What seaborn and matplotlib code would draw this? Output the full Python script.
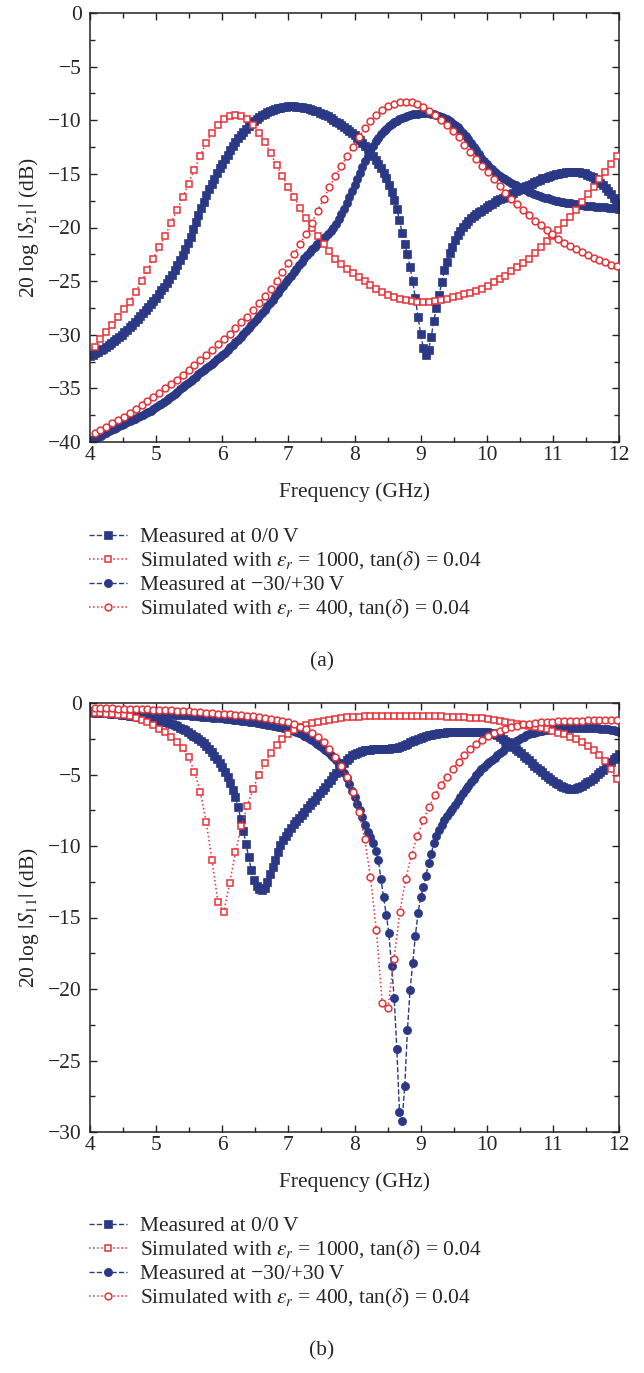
import numpy as np
import matplotlib
matplotlib.use('Agg')
import matplotlib.pyplot as plt
import seaborn as sns
from matplotlib.ticker import MultipleLocator

# frequency sweeps (GHz)
freq_meas = np.round(np.arange(4.0, 12.001, 0.04), 2)   # measured, 201 points
freq_sim = np.linspace(4.07, 11.97, 90)                  # simulated, 90 points

# ---- (a) 20 log|S21| (dB) ----
s21_meas_0v = [
    -32.0, -31.88, -31.73, -31.59, -31.46, -31.3, -31.14, -30.98, -30.8, -30.6, -30.4, -30.2, -30.0,
    -29.78, -29.54, -29.3, -29.06, -28.79, -28.51, -28.24, -28.0, -27.68, -27.39, -27.11, -26.83,
    -26.55, -26.19, -25.86, -25.54, -25.2, -24.8, -24.4, -23.97, -23.53, -23.07, -22.55, -22.03, -21.48,
    -20.86, -20.18, -19.5, -18.86, -18.22, -17.6, -17.0, -16.45, -15.93, -15.44, -14.96, -14.49,
    -14.05, -13.61, -13.2, -12.8, -12.41, -12.05, -11.69, -11.36, -11.06, -10.78, -10.5, -10.26, -10.05,
    -9.85, -9.66, -9.5, -9.38, -9.26, -9.14, -9.03, -8.95, -8.87, -8.82, -8.78, -8.74,
    -8.7, -8.7, -8.71, -8.73, -8.76, -8.8, -8.84, -8.89, -8.95, -9.02, -9.1, -9.18, -9.29,
    -9.41, -9.53, -9.65, -9.81, -9.97, -10.13, -10.29, -10.45, -10.61, -10.8, -11.0, -11.2,
    -11.4, -11.64, -11.88, -12.14, -12.42, -12.7, -13.02, -13.34, -13.68, -14.05, -14.45, -14.89, -15.42,
    -16.02, -16.68, -17.4, -18.3, -19.3, -20.5, -21.5, -22.5, -23.7, -25.0, -26.6, -28.3,
    -29.9, -31.2, -31.9, -31.4, -30.2, -28.7, -27.5, -26.3, -25.1, -24.0, -23.2, -22.4, -21.8,
    -21.2, -20.7, -20.3, -19.98, -19.69, -19.41, -19.15, -18.95, -18.75, -18.58, -18.42, -18.26,
    -18.1, -17.94, -17.78, -17.62, -17.47, -17.35, -17.23, -17.11, -16.99, -16.87, -16.75, -16.63, -16.51,
    -16.39, -16.27, -16.15, -16.03, -15.91, -15.79, -15.67, -15.55, -15.43, -15.34, -15.26, -15.18,
    -15.1, -15.02, -14.97, -14.93, -14.89, -14.85, -14.82, -14.8, -14.8, -14.81, -14.85, -14.89, -14.96,
    -15.06, -15.18, -15.3, -15.46, -15.65, -15.85, -16.06, -16.3, -16.58, -16.89, -17.26, -17.71,
    -18.3,
]
s21_meas_30v = [
    -39.9, -39.78, -39.66, -39.54, -39.42, -39.3, -39.14, -39.01, -38.89, -38.77, -38.65, -38.53, -38.41,
    -38.29, -38.17, -38.05, -37.93, -37.81, -37.69, -37.57, -37.45, -37.33, -37.21, -37.07, -36.91,
    -36.75, -36.59, -36.43, -36.27, -36.1, -35.9, -35.7, -35.5, -35.3, -35.1, -34.9, -34.7, -34.5,
    -34.3, -34.1, -33.9, -33.7, -33.5, -33.3, -33.1, -32.9, -32.7, -32.5, -32.3, -32.1,
    -31.9, -31.66, -31.42, -31.18, -30.94, -30.7, -30.46, -30.22, -29.96, -29.68, -29.4, -29.12, -28.84,
    -28.56, -28.28, -28.0, -27.68, -27.36, -27.04, -26.72, -26.4, -26.08, -25.76, -25.44, -25.12,
    -24.8, -24.48, -24.16, -23.84, -23.52, -23.2, -22.88, -22.59, -22.31, -22.04, -21.8, -21.56, -21.32,
    -21.08, -20.84, -20.6, -20.32, -20.01, -19.65, -19.25, -18.75, -18.23, -17.68, -17.12, -16.56,
    -16.0, -15.44, -14.88, -14.34, -13.82, -13.3, -12.82, -12.37, -11.98, -11.62, -11.3, -11.02, -10.77,
    -10.55, -10.36, -10.2, -10.04, -9.91, -9.79, -9.68, -9.6, -9.52, -9.46, -9.42, -9.39,
    -9.35, -9.35, -9.35, -9.37, -9.41, -9.45, -9.53, -9.63, -9.72, -9.82, -9.9, -10.06, -10.25,
    -10.45, -10.66, -10.9, -11.18, -11.46, -11.76, -12.09, -12.45, -12.81, -13.17, -13.51, -13.82,
    -14.1, -14.34, -14.58, -14.8, -15.0, -15.2, -15.36, -15.52, -15.68, -15.84, -15.95, -16.07, -16.19,
    -16.31, -16.43, -16.55, -16.67, -16.79, -16.89, -16.97, -17.05, -17.13, -17.21, -17.29, -17.37,
    -17.45, -17.49, -17.54, -17.59, -17.63, -17.67, -17.71, -17.75, -17.79, -17.83, -17.87, -17.91, -17.95,
    -18.0, -18.02, -18.04, -18.06, -18.08, -18.1, -18.11, -18.12, -18.14, -18.16, -18.17, -18.19,
    -18.2,
]
s21_sim_1000 = [
    -31.1, -30.4, -29.7, -29.1, -28.3, -27.6, -26.9, -26.0, -25.0, -24.0,
    -22.9, -21.8, -20.8, -19.6, -18.4, -17.2, -15.9, -14.6, -13.3, -12.1,
    -11.2, -10.4, -9.85, -9.6, -9.5, -9.6, -9.9, -10.45, -11.15, -12.05,
    -13.1, -14.2, -15.2, -16.2, -17.2, -18.2, -19.1, -20.0, -20.8, -21.5,
    -22.2, -22.9, -23.4, -23.9, -24.25, -24.65, -25.0, -25.4, -25.75, -26.05,
    -26.3, -26.5, -26.65, -26.75, -26.85, -26.9, -26.9, -26.9, -26.85, -26.75,
    -26.65, -26.5, -26.35, -26.2, -26.1, -25.9, -25.7, -25.45, -25.1, -24.8,
    -24.5, -24.1, -23.7, -23.3, -22.9, -22.4, -21.8, -21.3, -20.8, -20.2,
    -19.6, -19.0, -18.4, -17.6, -16.9, -16.2, -15.5, -14.8, -14.1, -13.3,
]
s21_sim_400 = [
    -39.2, -38.9, -38.6, -38.25, -37.95, -37.65, -37.3, -36.9, -36.55, -36.2,
    -35.85, -35.45, -35.0, -34.6, -34.2, -33.75, -33.25, -32.8, -32.35, -31.9,
    -31.4, -30.9, -30.4, -29.9, -29.4, -28.85, -28.3, -27.7, -27.05, -26.4,
    -25.7, -24.95, -24.15, -23.3, -22.45, -21.55, -20.6, -19.55, -18.45, -17.35,
    -16.25, -15.2, -14.3, -13.35, -12.45, -11.55, -10.75, -10.05, -9.5, -9.05,
    -8.7, -8.45, -8.32, -8.28, -8.33, -8.5, -8.78, -9.1, -9.5, -9.95,
    -10.45, -11.0, -11.6, -12.3, -12.95, -13.6, -14.25, -14.85, -15.5, -16.1,
    -16.75, -17.3, -17.85, -18.35, -18.85, -19.35, -19.8, -20.25, -20.65, -21.05,
    -21.45, -21.75, -22.05, -22.3, -22.55, -22.8, -23.05, -23.25, -23.45, -23.6,
]

# ---- (b) 20 log|S11| (dB) ----
s11_meas_0v = [
    -0.65, -0.66, -0.67, -0.68, -0.69, -0.7, -0.72, -0.73, -0.75, -0.76, -0.78, -0.8, -0.81,
    -0.83, -0.85, -0.88, -0.9, -0.93, -0.95, -0.98, -1.0, -1.03, -1.06, -1.09, -1.13,
    -1.17, -1.21, -1.26, -1.31, -1.36, -1.42, -1.48, -1.56, -1.64, -1.72, -1.82, -1.92, -2.04,
    -2.16, -2.28, -2.4, -2.52, -2.67, -2.83, -3.0, -3.2, -3.44, -3.68, -3.94, -4.22,
    -4.5, -4.82, -5.2, -5.62, -6.08, -6.6, -7.3, -8.1, -8.95, -9.85, -10.8, -11.7, -12.35,
    -12.77, -13.02, -13.1, -12.95, -12.5, -11.95, -11.48, -11.0, -10.45, -9.96, -9.59, -9.28,
    -9.0, -8.72, -8.47, -8.25, -8.05, -7.85, -7.61, -7.37, -7.15, -6.95, -6.75, -6.51, -6.3,
    -6.08, -5.84, -5.6, -5.36, -5.12, -4.88, -4.64, -4.4, -4.2, -4.0, -3.82, -3.67,
    -3.55, -3.47, -3.41, -3.36, -3.31, -3.28, -3.26, -3.24, -3.22, -3.21, -3.2, -3.2, -3.2,
    -3.19, -3.17, -3.15, -3.12, -3.07, -3.0, -2.92, -2.84, -2.76, -2.68, -2.6, -2.52,
    -2.42, -2.36, -2.31, -2.26, -2.21, -2.17, -2.14, -2.11, -2.09, -2.07, -2.05, -2.03, -2.02,
    -2.01, -2.0, -2.0, -2.0, -2.0, -2.0, -2.0, -2.0, -2.0, -2.01, -2.02, -2.03,
    -2.05, -2.09, -2.13, -2.18, -2.26, -2.4, -2.52, -2.64, -2.76, -2.88, -3.05, -3.21, -3.37,
    -3.53, -3.69, -3.85, -4.01, -4.2, -4.38, -4.54, -4.7, -4.86, -5.02, -5.18, -5.33,
    -5.45, -5.57, -5.69, -5.79, -5.87, -5.95, -5.99, -6.0, -5.98, -5.93, -5.85, -5.77, -5.66,
    -5.54, -5.42, -5.3, -5.14, -4.98, -4.82, -4.66, -4.5, -4.34, -4.15, -3.95, -3.76,
    -3.6,
]
s11_meas_30v = [
    -0.55, -0.56, -0.57, -0.57, -0.58, -0.59, -0.6, -0.61, -0.61, -0.62, -0.63, -0.64, -0.65,
    -0.65, -0.66, -0.67, -0.68, -0.69, -0.69, -0.7, -0.71, -0.72, -0.73, -0.73, -0.74,
    -0.75, -0.76, -0.77, -0.77, -0.78, -0.79, -0.8, -0.81, -0.81, -0.82, -0.84, -0.86, -0.87,
    -0.89, -0.9, -0.92, -0.94, -0.95, -0.97, -0.98, -1.0, -1.02, -1.03, -1.05, -1.06,
    -1.08, -1.1, -1.11, -1.13, -1.16, -1.18, -1.2, -1.23, -1.25, -1.27, -1.3, -1.33, -1.36,
    -1.4, -1.43, -1.46, -1.49, -1.52, -1.56, -1.59, -1.62, -1.65, -1.68, -1.72, -1.76,
    -1.8, -1.86, -1.93, -2.01, -2.09, -2.18, -2.28, -2.38, -2.49, -2.6, -2.72, -2.85, -2.98,
    -3.12, -3.27, -3.43, -3.61, -3.8, -4.02, -4.27, -4.55, -4.87, -5.25, -5.67, -6.12,
    -6.6, -7.05, -7.5, -7.95, -8.5, -9.0, -9.4, -9.8, -10.35, -11.0, -12.3, -13.6, -14.8,
    -16.1, -18.4, -20.6, -24.2, -28.6, -29.2, -26.8, -22.9, -20.1, -18.2, -16.3, -14.7,
    -13.6, -12.9, -12.1, -11.2, -10.55, -9.8, -9.3, -8.9, -8.55, -8.2, -7.9, -7.65, -7.4,
    -7.1, -6.83, -6.55, -6.27, -6.02, -5.78, -5.54, -5.3, -5.06, -4.85, -4.65, -4.46,
    -4.3, -4.14, -3.98, -3.82, -3.66, -3.5, -3.34, -3.18, -3.04, -2.92, -2.8, -2.68, -2.56,
    -2.45, -2.36, -2.27, -2.2, -2.13, -2.07, -2.02, -1.97, -1.93, -1.9, -1.87, -1.84,
    -1.82, -1.8, -1.79, -1.77, -1.76, -1.76, -1.75, -1.74, -1.73, -1.73, -1.73, -1.73, -1.73,
    -1.74, -1.74, -1.75, -1.76, -1.77, -1.79, -1.81, -1.83, -1.85, -1.88, -1.92, -1.96,
    -2.0,
]
s11_sim_1000 = [
    -0.7, -0.72, -0.75, -0.78, -0.82, -0.87, -0.94, -1.03, -1.17, -1.35,
    -1.55, -1.8, -2.05, -2.35, -2.7, -3.15, -3.8, -4.8, -6.2, -8.3,
    -11.0, -13.9, -14.6, -12.6, -10.4, -8.6, -7.2, -6.0, -5.0, -4.2,
    -3.5, -2.95, -2.5, -2.15, -1.9, -1.7, -1.55, -1.42, -1.32, -1.23,
    -1.16, -1.1, -1.05, -1.01, -0.98, -0.96, -0.94, -0.92, -0.91, -0.9,
    -0.9, -0.89, -0.89, -0.89, -0.9, -0.9, -0.91, -0.92, -0.93, -0.94,
    -0.95, -0.96, -0.98, -1.0, -1.02, -1.04, -1.06, -1.12, -1.17, -1.23,
    -1.3, -1.38, -1.47, -1.53, -1.6, -1.67, -1.75, -1.84, -1.95, -2.07,
    -2.2, -2.35, -2.55, -2.75, -3.0, -3.3, -3.62, -4.05, -4.6, -5.3,
]
s11_sim_400 = [
    -0.35, -0.36, -0.37, -0.38, -0.39, -0.4, -0.41, -0.42, -0.43, -0.44,
    -0.46, -0.48, -0.5, -0.52, -0.54, -0.56, -0.59, -0.62, -0.65, -0.68,
    -0.71, -0.74, -0.77, -0.8, -0.83, -0.86, -0.9, -0.94, -0.98, -1.03,
    -1.09, -1.16, -1.25, -1.36, -1.5, -1.66, -1.85, -2.08, -2.38, -2.75,
    -3.2, -3.75, -4.4, -5.2, -6.2, -7.6, -9.5, -12.2, -15.9, -21.0,
    -21.3, -17.9, -14.6, -12.3, -10.6, -9.3, -8.2, -7.25, -6.45, -5.75,
    -5.15, -4.6, -4.1, -3.65, -3.25, -2.9, -2.6, -2.33, -2.12, -1.95,
    -1.8, -1.68, -1.58, -1.5, -1.44, -1.39, -1.35, -1.32, -1.3, -1.28,
    -1.26, -1.25, -1.24, -1.23, -1.22, -1.21, -1.2, -1.2, -1.19, -1.19,
]

labels = [
    'Measured at 0/0\u2009V',
    r'Simulated with $\varepsilon_r$ = 1000, tan($\delta$) = 0.04',
    'Measured at \u221230/+30\u2009V',
    r'Simulated with $\varepsilon_r$ = 400, tan($\delta$) = 0.04',
]

navy = '#2a3886'
red = '#e53238'
fs = 15.5

sns.set_theme(style='ticks')
plt.rcParams['font.family'] = ['Liberation Serif', 'DejaVu Serif']
plt.rcParams['mathtext.fontset'] = 'stix'
plt.rcParams['font.size'] = fs
plt.rcParams['axes.linewidth'] = 1.1
plt.rcParams['axes.edgecolor'] = '#222222'

fig = plt.figure(figsize=(6.44, 13.73), dpi=100)
W, H = 644.0, 1373.0
ax_a = fig.add_axes([90 / W, 1 - 442 / H, 529 / W, 429 / H])
ax_b = fig.add_axes([90 / W, 1 - 1132 / H, 529 / W, 429 / H])


def draw_panel(ax, meas0, meas30, sim1000, sim400):
    meas_kw = dict(color=navy, linestyle='--', linewidth=1.0, markersize=5.9,
                   markeredgewidth=0.5, markeredgecolor=navy, zorder=2,
                   errorbar=None, legend=False)
    sim_kw = dict(color=red, linestyle=':', linewidth=1.1, markersize=4.9,
                  markeredgewidth=1.1, markeredgecolor=red,
                  markerfacecolor='white', zorder=3, errorbar=None, legend=False)
    sns.lineplot(x=freq_meas, y=meas0, ax=ax, marker='s', **meas_kw)
    h0 = ax.lines[-1]
    sns.lineplot(x=freq_meas, y=meas30, ax=ax, marker='o', **meas_kw)
    h30 = ax.lines[-1]
    sns.lineplot(x=freq_sim, y=sim1000, ax=ax, marker='s', **sim_kw)
    h1000 = ax.lines[-1]
    sns.lineplot(x=freq_sim, y=sim400, ax=ax, marker='o', **sim_kw)
    h400 = ax.lines[-1]
    ax.set_xlim(4, 12)
    ax.xaxis.set_major_locator(MultipleLocator(1))
    ax.xaxis.set_minor_locator(MultipleLocator(0.5))
    ax.yaxis.set_major_locator(MultipleLocator(5))
    ax.yaxis.set_minor_locator(MultipleLocator(2.5))
    ax.tick_params(which='both', direction='in', top=True, right=True,
                   labelsize=fs, color='#222222')
    ax.tick_params(which='major', length=5, width=1.0)
    ax.tick_params(which='minor', length=3.5, width=1.0)
    ax.tick_params(axis='y', pad=6)
    ax.tick_params(axis='x', pad=3)
    ax.set_xlabel('Frequency (GHz)', fontsize=fs, labelpad=12)
    return [h0, h1000, h30, h400]


handles_a = draw_panel(ax_a, s21_meas_0v, s21_meas_30v, s21_sim_1000, s21_sim_400)
ax_a.set_ylim(-40, 0)
ax_a.set_ylabel(r'20 log $|S_{21}|$ (dB)', fontsize=fs, labelpad=5)

handles_b = draw_panel(ax_b, s11_meas_0v, s11_meas_30v, s11_sim_1000, s11_sim_400)
ax_b.set_ylim(-30, 0)
ax_b.set_ylabel(r'20 log $|S_{11}|$ (dB)', fontsize=fs, labelpad=5)

for handles, top in [(handles_a, 527), (handles_b, 1216)]:
    fig.legend(handles, labels, loc='upper left',
               bbox_to_anchor=(89 / W, 1 - top / H), frameon=False,
               fontsize=fs, handlelength=1.75, handletextpad=0.6,
               labelspacing=0.12, borderpad=0, borderaxespad=0)

fig.text(0.5, 1 - 662 / H, '(a)', ha='center', va='center', fontsize=fs)
fig.text(0.5, 1 - 1351 / H, '(b)', ha='center', va='center', fontsize=fs)

fig.savefig('out.png', dpi=100)
